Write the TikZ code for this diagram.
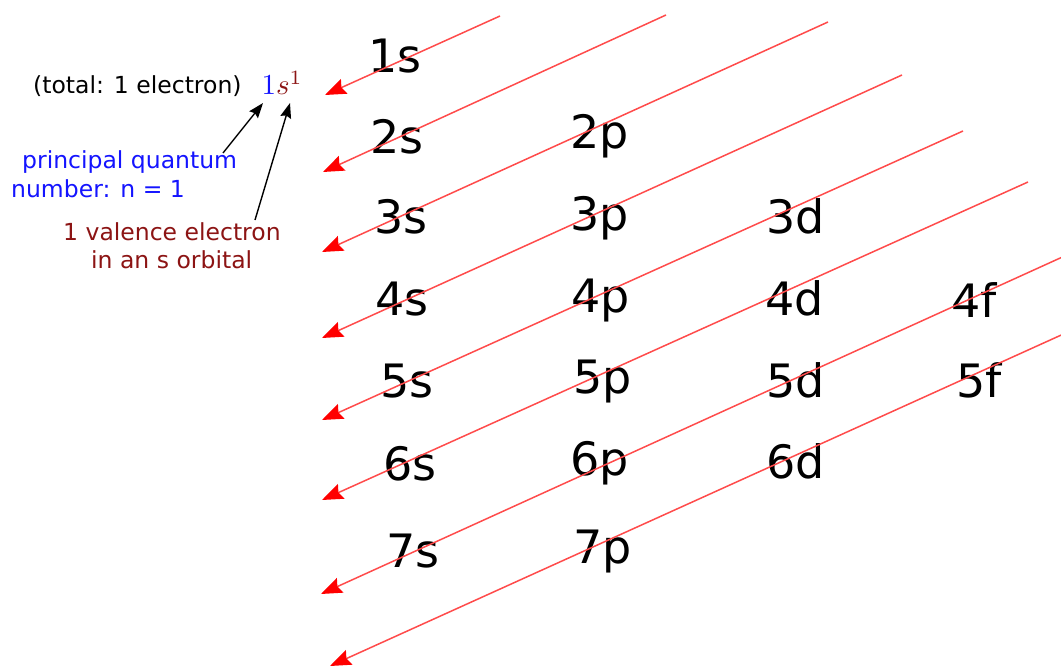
\documentclass[tikz,border=0pt]{standalone}
\usepackage{fontspec}
\setmainfont{DejaVu Sans}
\usetikzlibrary{arrows.meta}
\definecolor{darkred}{RGB}{140,20,20}
\definecolor{linered}{RGB}{255,75,75}
\definecolor{qblue}{RGB}{20,20,255}
\begin{document}
\begin{tikzpicture}[x=1pt,y=-1pt,
  orb/.style={font=\fontsize{46}{55}\selectfont, inner sep=0pt, anchor=base west},
  small/.style={font=\fontsize{23.5}{28}\selectfont, inner sep=0pt, anchor=base west},
  diag/.style={draw=linered, line width=1.5pt, -{Stealth[length=21pt,width=16pt,inset=3pt,color=red]}},
  pointer/.style={draw=black, line width=1.4pt, -{Stealth[length=15pt,width=11pt,inset=2pt]}}]
\clip (0,0) rectangle (1061,669);
\fill[white] (0,0) rectangle (1061,669);

% orbital labels
\node[orb] (o1s) at (368,73) {1s};
\node[orb] (o2s) at (370,153) {2s};
\node[orb] (o2p) at (570,148) {2p};
\node[orb] (o3s) at (374,233) {3s};
\node[orb] (o3p) at (570,230) {3p};
\node[orb] (o3d) at (766,233) {3d};
\node[orb] (o4s) at (375,315) {4s};
\node[orb] (o4p) at (571,312) {4p};
\node[orb] (o4d) at (765,315) {4d};
\node[orb] (o4f) at (951,317) {4f};
\node[orb] (o5s) at (380,397) {5s};
\node[orb] (o5p) at (573,393) {5p};
\node[orb] (o5d) at (766,397) {5d};
\node[orb] (o5f) at (956,397) {5f};
\node[orb] (o6s) at (383,480) {6s};
\node[orb] (o6p) at (570,475) {6p};
\node[orb] (o6d) at (766,478) {6d};
\node[orb] (o7s) at (386,567) {7s};
\node[orb] (o7p) at (573,563) {7p};

% red diagonal arrows
\coordinate (a1) at (500,16);   \coordinate (b1) at (325,95);
\coordinate (a2) at (666,15);   \coordinate (b2) at (323,172);
\coordinate (a3) at (828,22);   \coordinate (b3) at (322,252);
\coordinate (a4) at (902,75);   \coordinate (b4) at (322,338);
\coordinate (a5) at (963,131);  \coordinate (b5) at (322,420);
\coordinate (a6) at (1028,182); \coordinate (b6) at (322,500);
\coordinate (a7) at (1080,249); \coordinate (b7) at (321,594);
\coordinate (a8) at (1090,322); \coordinate (b8) at (330,666);
\foreach \i in {1,...,8}{\draw[diag] (a\i) -- (b\i);}

% left annotation
\node[small] (total) at (33,93) {(total: 1 electron)};
\node[inner sep=0pt, anchor=base west, scale=2.9] (conf) at (261,95) {$\textcolor{qblue}{1}\textcolor{darkred}{s^1}$};
\node[small, text=qblue] (pq1) at (22,168) {principal quantum};
\node[small, text=qblue] (pq2) at (11,197) {number: n = 1};
\node[small, text=darkred] (ve1) at (63,240) {1 valence electron};
\node[small, text=darkred] (ve2) at (91,268) {in an s orbital};

\coordinate (t1) at (223,153); \coordinate (h1) at (263,103);
\coordinate (t2) at (255,220); \coordinate (h2) at (290,103);
\draw[pointer] (t1) -- (h1);
\draw[pointer] (t2) -- (h2);
\end{tikzpicture}
\end{document}
